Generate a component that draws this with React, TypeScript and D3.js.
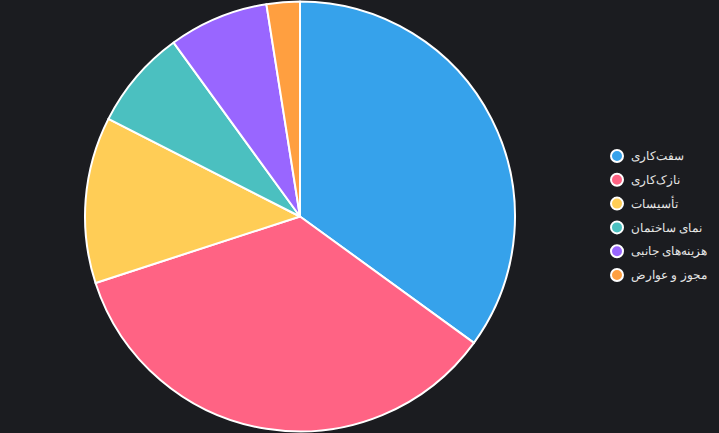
import React from 'react';
import * as d3 from 'd3';

const categories = ['سفت‌کاری', 'نازک‌کاری', 'تأسیسات', 'نمای ساختمان', 'هزینه‌های جانبی', 'مجوز و عوارض'];
const values = [35, 35, 12.5, 7.5, 7.5, 2.5];
const colors = ['#36A2EB', '#FF6384', '#FFCD56', '#4BC0C0', '#9966FF', '#FF9F40'];

const W = 719;
const H = 433;
const CX = 300;
const CY = 216.5;
const R = 215;

const App: React.FC = () => {
  const pie = d3.pie<number>().sort(null).value((d) => d);
  const arcs = pie(values);
  const arc = d3.arc<d3.PieArcDatum<number>>().innerRadius(0).outerRadius(R);

  const legendY = d3.scalePoint<string>().domain(categories).range([156, 275]);

  return (
    <div style={{ position: 'absolute', left: 0, top: 0, width: W, height: H, background: '#1b1c20' }}>
      <svg width={W} height={H} style={{ display: 'block' }}>
        <rect width={W} height={H} fill="#1b1c20" />
        <g transform={`translate(${CX},${CY})`}>
          {arcs.map((a, i) => (
            <path key={i} d={arc(a) || undefined} fill={colors[i]} stroke="#fff" strokeWidth={2} strokeLinejoin="round" />
          ))}
        </g>
        <g fontFamily="'Helvetica Neue', Helvetica, Arial, sans-serif" fontSize={12} fill="#e6e6e6">
          {categories.map((c, i) => (
            <g key={c} transform={`translate(0,${legendY(c)})`}>
              <circle cx={617} cy={0} r={6} fill={colors[i]} stroke="#fff" strokeWidth={2} />
              <text x={631} y={0} dy="0.35em" textAnchor="start">{c}</text>
            </g>
          ))}
        </g>
      </svg>
    </div>
  );
};

export default App;
